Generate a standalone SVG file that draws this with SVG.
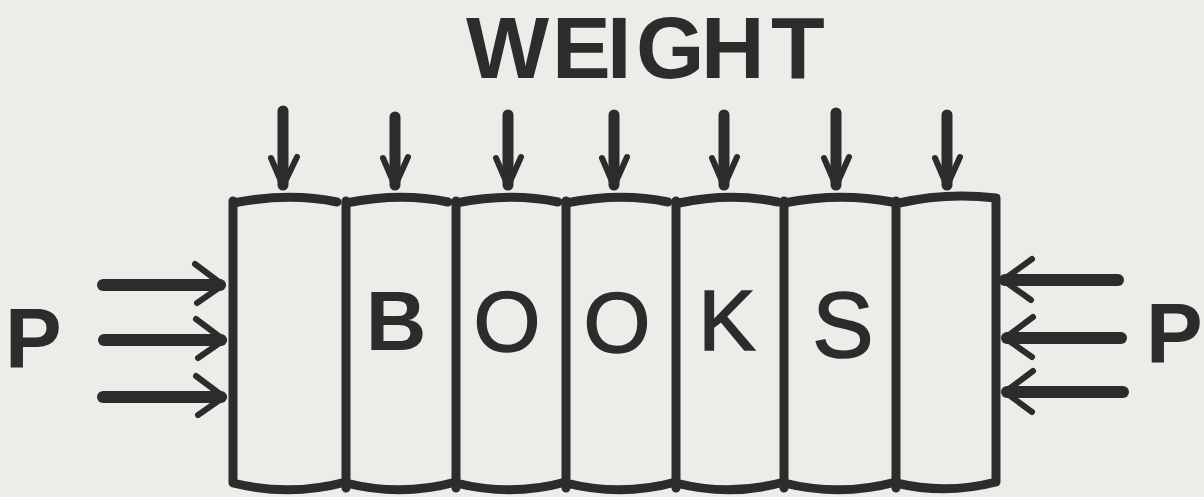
<svg xmlns="http://www.w3.org/2000/svg" width="1204" height="497" viewBox="0 0 1204 497">
<style>
.ink{fill:none;stroke:#2c2c2c;stroke-linecap:round;stroke-linejoin:round}
.book{stroke-width:9}
.shaft{stroke-width:11}
.hshaft{stroke-width:12}
.head{stroke-width:6}
.lbl{font-family:"Liberation Sans",Arial,sans-serif;fill:#2c2c2c}
.bold{font-weight:bold}
.thin{font-weight:normal;stroke:#2c2c2c;stroke-width:1.6}
</style>
<rect width="1204" height="497" fill="#ecece9"/>
<g id="weight-label">
<text class="lbl bold" font-size="88" x="466 552 607 636 701 771" y="78">WEIGHT</text>
</g>
<g id="p-left"><text class="lbl bold" font-size="85" x="5" y="368">P</text></g>
<g id="p-right"><text class="lbl bold" font-size="85" x="1146" y="363">P</text></g>
<g id="books">
<g id="book1"><path class="ink book" d="M233,201 L233,482 M233,203 Q290,192 337,202 M233,483 Q290,497 346,482"/></g>
<g id="book2"><path class="ink book" d="M346,201 L346,488 M346,203 Q401,192 448,202 M346,483 Q401,497 456,482"/>
<text class="lbl bold" font-size="84" x="396" y="350" text-anchor="middle">B</text></g>
<g id="book3"><path class="ink book" d="M456,201 L456,488 M456,203 Q511,192 558,202 M456,483 Q511,497 566,482"/>
<text class="lbl thin" font-size="86" x="507" y="351" text-anchor="middle">O</text></g>
<g id="book4"><path class="ink book" d="M566,201 L566,488 M566,203 Q621,192 668,202 M566,483 Q621,497 676,482"/>
<text class="lbl thin" font-size="86" x="617" y="352" text-anchor="middle">O</text></g>
<g id="book5"><path class="ink book" d="M676,201 L676,488 M679,203 Q730,192 778,202 M676,483 Q730,497 784,482"/>
<text class="lbl thin" font-size="86" x="727" y="350" text-anchor="middle">K</text></g>
<g id="book6"><path class="ink book" d="M784,201 L784,488 M784,203 Q840,192 892,202 M784,483 Q840,497 896,482"/>
<text class="lbl thin" font-size="92" x="843" y="357" text-anchor="middle">S</text></g>
<g id="book7"><path class="ink book" d="M896,201 L896,488 M899,203 Q946,192 996,198 L996,482 M896,483 Q946,495 996,482"/></g>
</g>
<g id="connectors">
<g id="weight-arrows">
<path class="ink shaft" d="M283,111 L283,185"/><path class="ink head" d="M271,158 L283,186 L297,157"/>
<path class="ink shaft" d="M395,117 L395,185"/><path class="ink head" d="M383,158 L395,186 L408,157"/>
<path class="ink shaft" d="M508,115 L508,185"/><path class="ink head" d="M496,158 L508,186 L521,157"/>
<path class="ink shaft" d="M614,115 L614,185"/><path class="ink head" d="M602,158 L614,186 L627,157"/>
<path class="ink shaft" d="M724,115 L724,185"/><path class="ink head" d="M712,158 L724,186 L737,157"/>
<path class="ink shaft" d="M836,113 L836,185"/><path class="ink head" d="M824,158 L836,186 L849,157"/>
<path class="ink shaft" d="M947,115 L947,185"/><path class="ink head" d="M935,158 L947,186 L960,157"/>
</g>
<g id="p-left-arrows">
<path class="ink hshaft" d="M103,285 L220,285"/><path class="ink head" d="M195,264 L223,285 L197,303"/>
<path class="ink hshaft" d="M104,340 L221,340"/><path class="ink head" d="M196,319 L224,340 L198,358"/>
<path class="ink hshaft" d="M103,397 L221,397"/><path class="ink head" d="M196,376 L224,397 L198,415"/>
</g>
<g id="p-right-arrows">
<path class="ink hshaft" d="M1118,280 L1005,280"/><path class="ink head" d="M1032,259 L1003,280 L1031,300"/>
<path class="ink hshaft" d="M1121,338 L1007,338"/><path class="ink head" d="M1033,317 L1005,338 L1032,357"/>
<path class="ink hshaft" d="M1123,392 L1007,392"/><path class="ink head" d="M1033,371 L1005,392 L1032,412"/>
</g>
</g>
</svg>
